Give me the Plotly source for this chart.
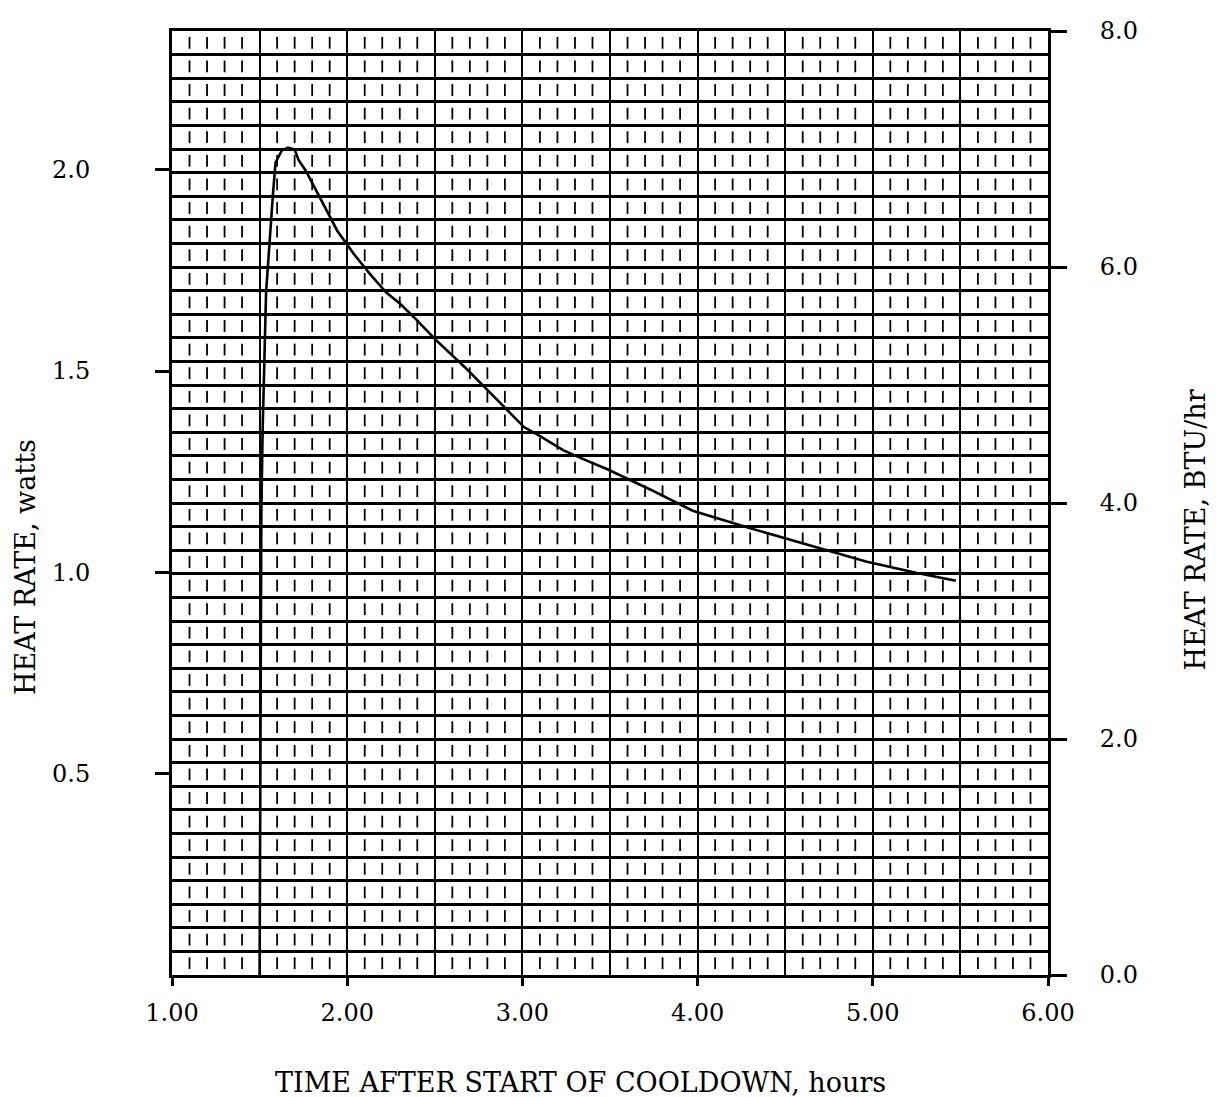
import plotly.graph_objects as go

# ---- data ----
time_hr = [1.50, 1.510, 1.517, 1.537, 1.577, 1.591, 1.627, 1.662, 1.700, 1.723,
           1.762, 1.856, 1.944, 2.039, 2.134, 2.223, 2.302, 2.392, 2.504, 2.673,
           2.807, 2.919, 3.009, 3.105, 3.235, 3.371, 3.485, 3.729, 3.972, 4.296,
           4.523, 4.734, 4.961, 5.246, 5.474]
heat_watts = [0.000, 1.150, 1.348, 1.696, 1.944, 2.018, 2.048, 2.055, 2.050, 2.024,
              1.999, 1.923, 1.848, 1.790, 1.739, 1.695, 1.667, 1.629, 1.578, 1.509,
              1.450, 1.401, 1.361, 1.337, 1.303, 1.277, 1.256, 1.206, 1.153, 1.110,
              1.082, 1.055, 1.027, 0.999, 0.979]

x_tickvals = [1, 2, 3, 4, 5, 6]
x_ticktext = ["1.00", "2.00", "3.00", "4.00", "5.00", "6.00"]
w_tickvals = [0.5, 1.0, 1.5, 2.0]
w_ticktext = ["0.5", "1.0", "1.5", "2.0"]
btu_tickvals = [0, 2, 4, 6, 8]
btu_ticktext = ["0.0", "2.0", "4.0", "6.0", "8.0"]

W_TO_BTU = 3.412
btu_max = 8.0
x_min, x_max = 1.0, 6.0

# ---- recorder-paper short dash marks (every 0.1 h inside each 0.2 BTU/hr row) ----
dash_x, dash_y = [], []
n_rows = int(round(btu_max / 0.2))
n_cols = int(round((x_max - x_min) / 0.1))
for r in range(n_rows):
    y0 = 0.2 * r
    for c in range(1, n_cols):
        if c % 5 == 0:
            continue
        xv = x_min + 0.1 * c
        dash_x += [xv, xv, None]
        dash_y += [y0 + 0.05, y0 + 0.15, None]

fig = go.Figure()
fig.add_trace(go.Scatter(x=dash_x, y=dash_y, mode="lines", yaxis="y2",
                         line=dict(color="black", width=1.8),
                         hoverinfo="skip", showlegend=False))
fig.add_trace(go.Scatter(x=time_hr, y=heat_watts, mode="lines",
                         line=dict(color="black", width=2.6),
                         showlegend=False))

tick_font = dict(family="DejaVu Serif", size=24, color="black")
title_font = dict(family="DejaVu Serif", size=27, color="black")

fig.update_layout(
    width=1216, height=1097,
    margin=dict(l=172, r=168, t=31, b=122),
    paper_bgcolor="white", plot_bgcolor="white",
    showlegend=False,
    xaxis=dict(range=[x_min, x_max], tickvals=x_tickvals, ticktext=x_ticktext,
               ticks="outside", ticklen=8, tickwidth=3, tickcolor="black",
               tickfont=tick_font, ticklabelstandoff=6,
               showgrid=True, gridcolor="black", gridwidth=1.8,
               minor=dict(dtick=0.5, showgrid=True, gridcolor="black", gridwidth=1.8),
               showline=True, linecolor="black", linewidth=3, mirror=True,
               zeroline=False),
    yaxis=dict(range=[0, btu_max / W_TO_BTU], tickvals=w_tickvals, ticktext=w_ticktext,
               ticks="outside", ticklen=14, tickwidth=3, tickcolor="black",
               tickfont=tick_font, ticklabelstandoff=60,
               showgrid=False, showline=True, linecolor="black", linewidth=3,
               zeroline=False),
    yaxis2=dict(range=[0, btu_max], overlaying="y", side="right",
                tickvals=btu_tickvals, ticktext=btu_ticktext,
                ticks="outside", ticklen=16, tickwidth=3, tickcolor="black",
                tickfont=tick_font, ticklabelstandoff=28,
                showgrid=True, gridcolor="black", gridwidth=3.2,
                minor=dict(dtick=0.2, showgrid=True, gridcolor="black", gridwidth=3.2),
                showline=True, linecolor="black", linewidth=3,
                zeroline=False),
    annotations=[
        dict(text="HEAT RATE, watts", x=-0.168, y=0.432, xref="paper", yref="paper",
             textangle=-90, showarrow=False, font=title_font,
             xanchor="center", yanchor="middle"),
        dict(text="HEAT RATE, BTU/hr", x=1.168, y=0.471, xref="paper", yref="paper",
             textangle=-90, showarrow=False, font=title_font,
             xanchor="center", yanchor="middle"),
        dict(text="TIME AFTER START OF COOLDOWN, hours", x=0.466, y=-0.114,
             xref="paper", yref="paper", showarrow=False, font=title_font,
             xanchor="center", yanchor="middle"),
    ],
)

fig.write_html("out.html")
